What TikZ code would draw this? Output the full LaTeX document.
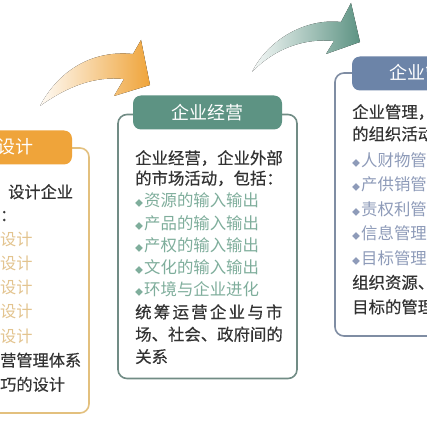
\documentclass[tikz,border=0pt]{standalone}
\usepackage{fontspec}
\setmainfont{Noto Sans CJK SC}
\newfontfamily\inkfont[FakeBold=0.4]{Noto Sans CJK SC}
\usepackage{tikz}
\usetikzlibrary{positioning}
\definecolor{Ink}{HTML}{333333}
\definecolor{Gold}{HTML}{EFA43A}
\definecolor{GoldLine}{HTML}{E3C07E}
\definecolor{GoldItem}{HTML}{E3C48F}
\definecolor{Teal}{HTML}{5D9383}
\definecolor{TealLine}{HTML}{718C85}
\definecolor{TealItem}{HTML}{7FAE9C}
\definecolor{Slate}{HTML}{6C84A8}
\definecolor{SlateLine}{HTML}{7F8DA3}
\definecolor{SlateItem}{HTML}{8E9BB9}
\newcommand{\bul}{{\fontsize{8}{8}\selectfont ◆}\hspace{1pt}}
\newcommand{\entry}[2]{\textcolor{#1}{\normalfont\bul #2}}
\newcommand{\wide}[1]{{\addfontfeature{LetterSpace=14}#1}}

\begin{document}
\begin{tikzpicture}[x=1pt,y=-1pt,
  panel/.style={draw,line width=1.6pt,rounded corners=9pt,fill=white,
    minimum width=179pt,minimum height=265pt,inner sep=0pt},
  head/.style={rounded corners=8pt,minimum width=149pt,minimum height=34pt,
    inner sep=0pt,text=white,font=\fontsize{18}{18}\selectfont},
  headtext/.style={inner sep=0pt,text=white,font=\fontsize{18}{18}\selectfont},
  body/.style={anchor=north west,align=left,inner sep=0pt,text=Ink}]
  \clip (0,0) rectangle (427,430);
  \fill[white] (0,0) rectangle (427,430);

  \fill[left color=Gold!5,middle color=Gold!75,right color=Gold]
    (40,106) .. controls (60,68) and (95,50) .. (133,54) -- (141,40)
    -- (150,85) -- (114,96) -- (124,79) .. controls (95,76) and (68,86) .. (40,106) -- cycle;
  \fill[left color=Teal!5,middle color=Teal!70,right color=Teal]
    (252,72) .. controls (268,40) and (305,18) .. (341,22) -- (351,3)
    -- (360,42) -- (326,54) -- (334,41) .. controls (305,38) and (275,48) .. (252,72) -- cycle;

  \node[panel,draw=GoldLine] (leftpanel) at (-0.5,280.5) {};
  \node[panel,draw=TealLine,minimum height=264pt] (midpanel) at (207.5,246.5) {};
  \node[panel,draw=SlateLine,minimum height=263pt] (rightpanel) at (424.5,204.5) {};

  \node[head,fill=Gold] (lefthead) at (-2.5,147.5) {};
  \node[headtext,anchor=east] (lefttitle) at (34,147) {设计};
  \node[head,fill=Teal] (midhead) at (207.5,112.5) {企业经营};
  \node[head,fill=Slate] (righthead) at (426.5,73.5) {};
  \node[headtext,anchor=west] (righttitle) at (389,73) {企业管};

  \node[body,font=\inkfont\fontsize{16.2}{24.2}\selectfont] (lefttext) at (0,184) {%
    \hspace{8pt}设计企业\\[-1pt]
    ：\\
    \textcolor{GoldItem}{\normalfont 设计}\\
    \textcolor{GoldItem}{\normalfont 设计}\\
    \textcolor{GoldItem}{\normalfont 设计}\\
    \textcolor{GoldItem}{\normalfont 设计}\\
    \textcolor{GoldItem}{\normalfont 设计}\\
    营管理体系\\
    巧的设计};

  \node[body,font=\inkfont\fontsize{16.4}{22.3}\selectfont] (midtext) at (135,150) {%
    企业经营，企业外部\\[-2pt]
    的市场活动，包括：\\
    \entry{TealItem}{资源的输入输出}\\
    \entry{TealItem}{产品的输入输出}\\
    \entry{TealItem}{产权的输入输出}\\
    \entry{TealItem}{文化的输入输出}\\
    \entry{TealItem}{环境与企业进化}\\
    \wide{统筹运营企业与市}\\
    场、社会、政府间的\\
    关系};

  \node[body,font=\inkfont\fontsize{16.4}{24.5}\selectfont] (righttext) at (352,104) {%
    企业管理，\\[-2.5pt]
    的组织活动\\[1.5pt]
    \entry{SlateItem}{人财物管}\\
    \entry{SlateItem}{产供销管}\\
    \entry{SlateItem}{责权利管}\\
    \entry{SlateItem}{信息管理}\\
    \entry{SlateItem}{目标管理}\\
    组织资源、\\
    目标的管理};
\end{tikzpicture}
\end{document}
